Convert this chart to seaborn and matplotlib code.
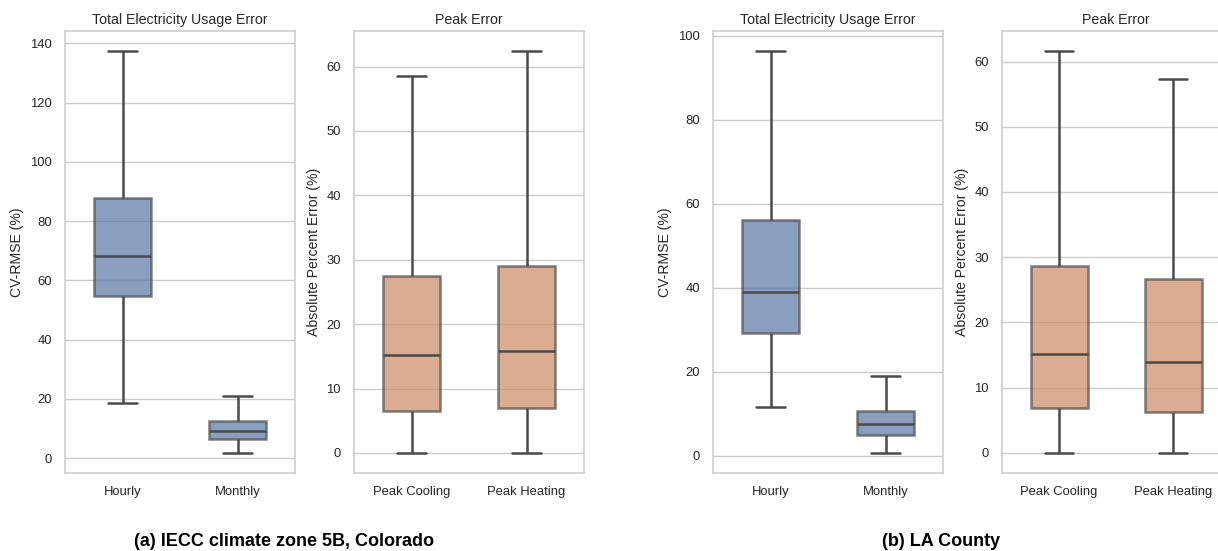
import numpy as np
import pandas as pd
import matplotlib
matplotlib.use("Agg")
import matplotlib.pyplot as plt
import seaborn as sns

# ---- data: five-number summaries [min, q1, median, q3, max] ----
usage_categories = ["Hourly", "Monthly"]
peak_categories = ["Peak Cooling", "Peak Heating"]

co_hourly = [18.6, 54.9, 68.3, 87.9, 137.4]
co_monthly = [1.8, 6.6, 9.2, 12.4, 21.0]
co_cooling = [0.0, 6.5, 15.2, 27.4, 58.6]
co_heating = [0.0, 6.9, 15.9, 29.1, 62.4]

la_hourly = [11.6, 29.2, 39.0, 56.1, 96.4]
la_monthly = [0.7, 5.0, 7.5, 10.6, 19.1]
la_cooling = [0.0, 6.9, 15.2, 28.7, 61.6]
la_heating = [0.0, 6.3, 14.0, 26.7, 57.3]

usage_title = "Total Electricity Usage Error"
peak_title = "Peak Error"
usage_ylabel = "CV-RMSE (%)"
peak_ylabel = "Absolute Percent Error (%)"
captions = ["(a) IECC climate zone 5B, Colorado", "(b) LA County"]

sns.set_theme(style="whitegrid")
plt.rcParams["font.family"] = ["Liberation Sans", "DejaVu Sans"]

W, H = 1218, 551
fig = plt.figure(figsize=(W / 100, H / 100), dpi=100)

def ax_at(x0, x1, y0=31, y1=473):
    return fig.add_axes([x0 / W, (H - y1) / H, (x1 - x0) / W, (y1 - y0) / H])

blue, orange = sns.color_palette("deep")[0], sns.color_palette("deep")[1]

def draw(ax, cats, series, color, title, ylabel):
    df = pd.DataFrame({
        "cat": np.repeat(cats, [len(s) for s in series]),
        "val": np.concatenate(series),
    })
    sns.boxplot(data=df, x="cat", y="val", ax=ax, color=color, width=0.5,
                whis=np.inf, linewidth=1.8, linecolor="#4a4a4a",
                boxprops=dict(alpha=0.7))
    ax.set_title(title, fontsize=10.2, color="#262626", pad=5)
    ax.set_xlabel("")
    ax.set_ylabel(ylabel, fontsize=10.1, color="#262626")
    ax.tick_params(labelsize=9.4, colors="#262626")
    for s in ax.spines.values():
        s.set_color("#d0d0d0")

ax1 = ax_at(65, 295)
ax2 = ax_at(354, 584)
ax3 = ax_at(713, 943)
ax4 = ax_at(1002, 1230)

draw(ax1, usage_categories, [co_hourly, co_monthly], blue, usage_title, usage_ylabel)
draw(ax2, peak_categories, [co_cooling, co_heating], orange, peak_title, peak_ylabel)
draw(ax3, usage_categories, [la_hourly, la_monthly], blue, usage_title, usage_ylabel)
draw(ax4, peak_categories, [la_cooling, la_heating], orange, peak_title, peak_ylabel)

ax1.set_yticks([0, 20, 40, 60, 80, 100, 120, 140])
ax2.set_yticks([0, 10, 20, 30, 40, 50, 60])
ax3.set_yticks([0, 20, 40, 60, 80, 100])
ax4.set_yticks([0, 10, 20, 30, 40, 50, 60])

fig.text(284 / W, 1 - 541 / H, captions[0], ha="center", va="center",
         fontsize=13, fontweight="bold", color="black")
fig.text(941 / W, 1 - 541 / H, captions[1], ha="center", va="center",
         fontsize=13, fontweight="bold", color="black")

fig.savefig("out.png", dpi=100)
